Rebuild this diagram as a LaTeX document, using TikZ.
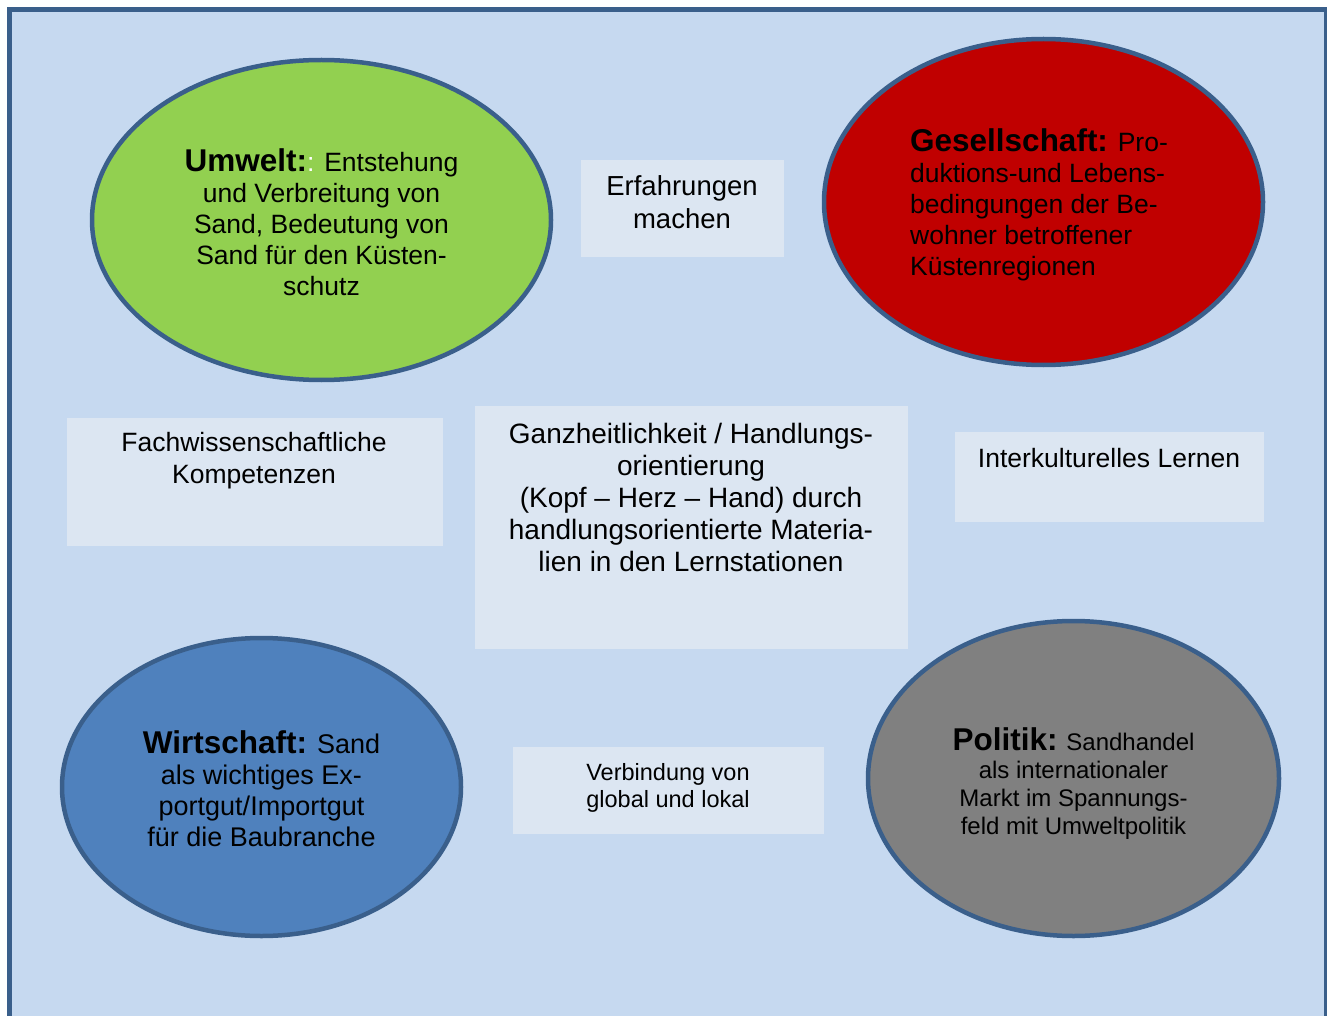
\documentclass[tikz,border=0pt]{standalone}
\usepackage{fontspec}
\setmainfont{Liberation Sans}
\usetikzlibrary{shapes.geometric}
\definecolor{bgblue}{HTML}{C6D9F0}
\definecolor{frameblue}{HTML}{3A5F8B}
\definecolor{boxblue}{HTML}{DCE6F2}
\definecolor{ogreen}{HTML}{92D050}
\definecolor{ored}{HTML}{C00000}
\definecolor{oblue}{HTML}{4F81BD}
\definecolor{ogray}{HTML}{808080}
\newcommand\hd[1]{{\fontsize{31.5}{31}\selectfont\bfseries #1}}
\begin{document}
\begin{tikzpicture}[x=1pt,y=-1pt,
  oval/.style={ellipse, draw=frameblue, line width=4.5pt, inner sep=0pt},
  ovaltxt/.style={align=center, inner sep=0pt, font=\fontsize{26.5}{31}\selectfont},
  panel/.style={rectangle, fill=boxblue, inner sep=0pt},
  txt/.style={align=center, inner sep=0pt, anchor=base, font=\fontsize{26.5}{31.5}\selectfont}]
\useasboundingbox (0,0) rectangle (1327,1016);
\clip (0,0) rectangle (1327,1016);
\draw[fill=bgblue, draw=frameblue, line width=5pt] (9.2,9.2) rectangle (1326,1040);

% ovals
\node[oval, fill=ogreen, minimum width=459pt, minimum height=320pt] (umwelt) at (321.5,220) {};
\node[oval, fill=ored, minimum width=439pt, minimum height=326pt] (gesell) at (1043.5,202) {};
\node[oval, fill=oblue, minimum width=399pt, minimum height=298pt] (wirt) at (261.5,787) {};
\node[oval, fill=ogray, minimum width=411pt, minimum height=315pt] (pol) at (1073.5,778.5) {};

% oval texts
\node[ovaltxt, yshift=-2pt] (umweltt) at (umwelt.center)
  {\hd{Umwelt:}{\color{white}:} Entstehung\\und Verbreitung von\\Sand, Bedeutung von\\Sand für den Küsten-\\schutz};
\node[ovaltxt, align=left, text depth=0pt, xshift=-4.5pt] (gesellt) at (gesell.center)
  {\hd{Gesellschaft:} Pro-\\duktions-und Lebens-\\bedingungen der Be-\\wohner betroffener\\Küstenregionen};
\node[ovaltxt, font=\fontsize{27}{31}\selectfont, yshift=-1.5pt] (wirtt) at (wirt.center)
  {\hd{Wirtschaft:} Sand\\als wichtiges Ex-\\portgut/Importgut\\für die Baubranche};
\node[ovaltxt, font=\fontsize{24}{28}\selectfont, yshift=-5pt] (polt) at (pol.center)
  {\hd{Politik:} Sandhandel\\als internationaler\\Markt im Spannungs-\\feld mit Umweltpolitik};

% panels
\node[panel, minimum width=203pt, minimum height=97pt] (erf) at (682.5,208.5) {};
\node[panel, minimum width=376pt, minimum height=128pt] (fach) at (255,482) {};
\node[panel, minimum width=433pt, minimum height=243pt] (ganz) at (691.5,527.5) {};
\node[panel, minimum width=309pt, minimum height=90pt] (inter) at (1109.5,477) {};
\node[panel, minimum width=311pt, minimum height=87pt] (verb) at (668.5,790.5) {};

% panel texts (anchor = baseline of last line)
\node[txt, font=\fontsize{27.5}{33}\selectfont] (erft) at (682,229) {Erfahrungen\\machen};
\node[txt] (facht) at (254,483) {Fachwissenschaftliche\\Kompetenzen};
\node[txt, font=\fontsize{28}{32}\selectfont] (ganzt) at (691,571) {Ganzheitlichkeit / Handlungs-\\orientierung\\(Kopf – Herz – Hand) durch\\handlungsorientierte Materia-\\lien in den Lernstationen};
\node[txt] (intert) at (1109,467) {Interkulturelles Lernen};
\node[txt, font=\fontsize{23.5}{27}\selectfont] (verbt) at (668,807) {Verbindung von\\global und lokal};
\end{tikzpicture}
\end{document}
